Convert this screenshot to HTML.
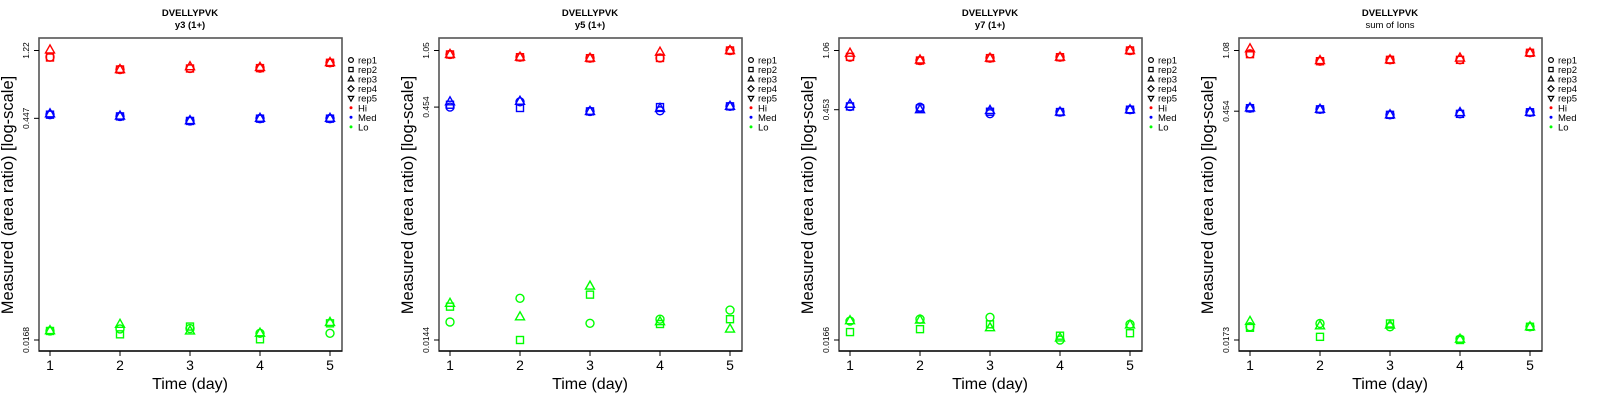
<!DOCTYPE html>
<html><head><meta charset="utf-8"><style>
html,body{margin:0;padding:0;background:#fff;}
svg{display:block;font-family:"Liberation Sans",sans-serif;}
</style></head><body>
<svg id="fig" width="1600" height="400" viewBox="0 0 1600 400" xmlns="http://www.w3.org/2000/svg"></svg>
<script>
const days = [1,2,3,4,5];
const panelTitles = ["y3 (1+)","y5 (1+)","y7 (1+)","sum of Ions"];
const tickTop = [1.22,1.05,1.06,1.08];
const tickMid = [0.447,0.454,0.453,0.454];
const tickBot = [0.0168,0.0144,0.0166,0.0173];
// values[panel][level][rep] -> per day
const p1Hi = [[1.106,0.921,0.935,0.94,1.017],[1.10,0.921,0.935,0.94,1.017],[1.23,0.921,0.96,0.95,1.02]];
const p1Med = [[0.472,0.46,0.43,0.445,0.445],[0.472,0.46,0.43,0.445,0.445],[0.478,0.462,0.432,0.447,0.447]];
const p1Lo = [[0.0192,0.0198,0.0199,0.01854,0.01854],[0.0192,0.01827,0.0205,0.01698,0.0215],[0.0193,0.0212,0.0192,0.0186,0.0218]];
const p2Hi = [[0.99,0.951,0.937,0.94,1.05],[0.99,0.951,0.937,0.94,1.05],[0.99,0.951,0.937,1.024,1.05]];
const p2Med = [[0.454,0.491,0.426,0.43,0.459],[0.47,0.448,0.426,0.454,0.459],[0.491,0.495,0.426,0.445,0.459]];
const p2Lo = [[0.0188,0.0267,0.01845,0.0196,0.02245],[0.0236,0.0144,0.0282,0.01825,0.0196],[0.0248,0.0203,0.032,0.0189,0.01694]];
const p3Hi = [[0.963,0.918,0.95,0.963,1.06],[0.967,0.918,0.95,0.963,1.06],[1.02,0.925,0.95,0.963,1.06]];
const p3Med = [[0.475,0.47,0.428,0.438,0.453],[0.475,0.462,0.44,0.438,0.453],[0.49,0.453,0.448,0.438,0.453]];
const p3Lo = [[0.0218,0.0224,0.023,0.0166,0.0208],[0.0186,0.0194,0.0208,0.01766,0.0183],[0.0219,0.0221,0.0198,0.0171,0.0206]];
const p4Hi = [[1.03,0.927,0.945,0.945,1.045],[1.025,0.927,0.945,0.945,1.045],[1.106,0.935,0.945,0.97,1.045]];
const p4Med = [[0.474,0.466,0.431,0.437,0.447],[0.474,0.466,0.431,0.437,0.447],[0.476,0.466,0.431,0.445,0.447]];
const p4Lo = [[0.0209,0.0219,0.0209,0.01754,0.0209],[0.0206,0.0181,0.0219,0.0173,0.0209],[0.02256,0.0212,0.0214,0.0175,0.0209]];
const panelData = [[p1Hi,p1Med,p1Lo],[p2Hi,p2Med,p2Lo],[p3Hi,p3Med,p3Lo],[p4Hi,p4Med,p4Lo]];
const levelColors = ["#ff0000","#0000ff","#00ff00"];
const legendLabels = ["rep1","rep2","rep3","rep4","rep5","Hi","Med","Lo"];

const NS="http://www.w3.org/2000/svg";
const svg=document.getElementById('fig');
function mk(tag,attrs,parent){const e=document.createElementNS(NS,tag);for(const k in attrs)e.setAttribute(k,attrs[k]);(parent||svg).appendChild(e);return e;}
function marker(g,shape,cx,cy,col,sw){
  sw=sw||1.4;
  let e;
  if(shape===0){e=mk('circle',{cx:cx,cy:cy,r:4,fill:'none',stroke:col,'stroke-width':sw},g);}
  else if(shape===1){e=mk('rect',{x:cx-3.5,y:cy-3.5,width:7,height:7,fill:'none',stroke:col,'stroke-width':sw},g);}
  else if(shape===2){e=mk('polygon',{points:`${cx},${cy-5} ${cx-4.5},${cy+3} ${cx+4.5},${cy+3}`,fill:'none',stroke:col,'stroke-width':sw},g);}
  else if(shape===3){e=mk('polygon',{points:`${cx},${cy-5} ${cx+5},${cy} ${cx},${cy+5} ${cx-5},${cy}`,fill:'none',stroke:col,'stroke-width':sw},g);}
  else {e=mk('polygon',{points:`${cx},${cy+5} ${cx-4.5},${cy-3} ${cx+4.5},${cy-3}`,fill:'none',stroke:col,'stroke-width':sw},g);}
  return e;
}
for(let p=0;p<4;p++){
  const ox=p*400;
  const g=mk('g',{});
  
  
  const L=ox+39,R=ox+342,T=38,B=351;
  const yTopPx=50.5,yBotPx=340;
  const lt=Math.log10(tickTop[p]),lb=Math.log10(tickBot[p]);
  const ys=v=>yTopPx+(lt-Math.log10(v))/(lt-lb)*(yBotPx-yTopPx);
  const xs=d=>ox+50+(d-1)*(280/4);
  let t=mk('text',{x:ox+190,y:16,'text-anchor':'middle','font-size':9.5,'font-weight':'bold'},g);t.textContent='DVELLYPVK';
  
  t=mk('text',{x:ox+190,y:28,'text-anchor':'middle','font-size':9.5,'font-weight':p<3?'bold':'normal'},g);t.textContent=panelTitles[p];
  
  const box=mk('rect',{x:L,y:T,width:R-L,height:B-T,fill:'none',stroke:'#555','stroke-width':1.6},g);
  
  mk('line',{x1:L,x2:R,y1:B,y2:B,stroke:'#000','stroke-width':1.2},g);
  days.forEach(d=>{
    mk('line',{x1:xs(d),x2:xs(d),y1:B,y2:B+5,stroke:'#000'},g);
    const tl=mk('text',{x:xs(d),y:370,'text-anchor':'middle','font-size':14},g);tl.textContent=d;
    
  });
  [tickTop[p],tickMid[p],tickBot[p]].forEach(v=>{
    const y=ys(v);
    mk('line',{x1:L-5,x2:L,y1:y,y2:y,stroke:'#000'},g);
    const tl=mk('text',{x:0,y:0,'text-anchor':'middle','font-size':8.5,transform:`translate(${L-10},${y}) rotate(-90)`},g);tl.textContent=v;
    
  });
  t=mk('text',{x:0,y:0,'text-anchor':'middle','font-size':16.5,transform:`translate(${ox+13},195) rotate(-90)`},g);t.textContent='Measured (area ratio) [log-scale]';
  
  t=mk('text',{x:ox+190,y:389,'text-anchor':'middle','font-size':16},g);t.textContent='Time (day)';
  
  panelData[p].forEach((lev,li)=>{
    lev.forEach((series,ri)=>{
      series.forEach((v,di)=>{
        const m=marker(g,ri,xs(days[di]),ys(v),levelColors[li]);
        
        
      });
    });
  });
  const lg=mk('g',{},g);
  
  
  legendLabels.forEach((lab,i)=>{
    const y=60+i*9.55, sx=ox+351;
    if(i<5){const m=marker(lg,i,sx,y,'#000',2);m.setAttribute('transform',`translate(${sx},${y}) scale(0.6) translate(${-sx},${-y})`);}
    else mk('circle',{cx:sx,cy:y,r:1.5,fill:levelColors[i-5]},lg);
    const tt=mk('text',{x:ox+358,y:y+3.5,'font-size':9.5},lg);tt.textContent=lab;
    
  });
}
</script>
</body></html>
